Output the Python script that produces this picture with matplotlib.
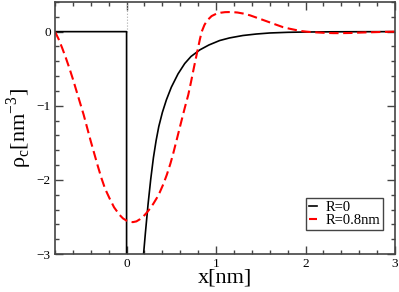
import numpy as np
import matplotlib
matplotlib.use("Agg")
import matplotlib.pyplot as plt
from matplotlib.ticker import MultipleLocator

plt.rcParams['font.family'] = ['Liberation Serif', 'DejaVu Serif']
plt.rcParams['mathtext.fontset'] = 'custom'
plt.rcParams['mathtext.rm'] = 'Liberation Serif'

# R=0 series (step, then rising curve)
r0_x = [-0.8, 0.0, 0.0, np.nan,
        0.18, 0.19, 0.21, 0.24, 0.27, 0.30, 0.33, 0.36, 0.40, 0.445, 0.50, 0.575, 0.65,
        0.72, 0.82, 0.92, 1.04, 1.15, 1.3, 1.45, 1.6, 1.8, 2.0, 2.3, 2.6, 3.0]
r0_y = [0.0, 0.0, -3.1, np.nan,
        -3.2, -3.0, -2.72, -2.33, -1.99, -1.70, -1.47, -1.28, -1.09, -0.92, -0.75, -0.57, -0.43,
        -0.335, -0.245, -0.18, -0.12, -0.085, -0.052, -0.032, -0.018, -0.009, -0.005, -0.002,
        -0.001, 0.0]

# R=0.8nm series
r8_x = [-0.8, -0.76, -0.72, -0.68, -0.64, -0.6, -0.56, -0.52, -0.48, -0.44, -0.40, -0.36,
        -0.32, -0.28, -0.24, -0.19, -0.14, -0.08, -0.04, 0.0, 0.04, 0.07, 0.11, 0.15, 0.19,
        0.22, 0.26, 0.30, 0.34, 0.37, 0.41, 0.45, 0.49, 0.52, 0.56, 0.61, 0.65, 0.69, 0.72,
        0.75, 0.79, 0.82, 0.84, 0.87, 0.9, 0.95, 1.0, 1.05, 1.1, 1.17, 1.24, 1.3, 1.38, 1.45,
        1.52, 1.6, 1.68, 1.75, 1.82, 1.9, 1.96, 2.01, 2.08, 2.15, 2.23, 2.31, 2.4, 2.5, 2.6,
        2.68, 2.77, 2.85, 2.93, 3.0]
r8_y = [0.0, -0.1, -0.22, -0.35, -0.49, -0.64, -0.80, -0.96, -1.12, -1.30, -1.48, -1.65,
        -1.82, -1.98, -2.12, -2.25, -2.37, -2.47, -2.52, -2.55, -2.565, -2.57, -2.56, -2.53, -2.49,
        -2.45, -2.39, -2.32, -2.24, -2.17, -2.06, -1.93, -1.78, -1.65, -1.46, -1.22, -1.03, -0.85, -0.68,
        -0.50, -0.27, -0.10, 0.0, 0.09, 0.15, 0.21, 0.24, 0.255, 0.263, 0.265, 0.258, 0.245, 0.22, 0.19,
        0.16, 0.125, 0.09, 0.06, 0.04, 0.02, 0.007, 0.0, -0.007, -0.012, -0.017, -0.02, -0.02, -0.018, -0.013,
        -0.01, -0.007, -0.004, -0.002, 0.0]

labels = ["R=0", "R=0.8nm"]

fig = plt.figure(figsize=(3.99, 2.92), dpi=100)
ax = fig.add_axes([55/399, 1-254/292, 340/399, 252/292])

ax.plot([0, 0], [0, 0.4], color='#aaaaaa', lw=0.8, ls=':')
ax.plot(r0_x, r0_y, color='black', lw=1.2, label=labels[0])
ax.plot(r8_x, r8_y, color='#ff0000', lw=1.5, ls=(0, (4.5, 2.2)), label=labels[1])

ax.set_xlim(-0.8, 3)
ax.set_ylim(-3, 0.4)
ax.xaxis.set_major_locator(MultipleLocator(1))
ax.xaxis.set_minor_locator(MultipleLocator(0.2))
ax.yaxis.set_major_locator(MultipleLocator(1))
ax.yaxis.set_minor_locator(MultipleLocator(0.2))
ax.tick_params(which='both', direction='in', top=True, right=True, labelsize=9.5, pad=3,
               color='#444444')
ax.tick_params(which='major', length=6, width=1)
ax.tick_params(which='minor', length=3, width=1)
for s in ax.spines.values():
    s.set_color('#444444')
    s.set_linewidth(1.2)

ax.set_xlabel('x[nm]', fontsize=16, labelpad=-1)
ax.set_ylabel('ρ$_\\mathrm{c}$[nm$^{-3}$]', fontsize=16, labelpad=2)

leg = ax.legend(loc='lower right', bbox_to_anchor=(0.965, 0.095), fontsize=10.5,
                handlelength=0.55, handletextpad=0.6, borderpad=0.2, labelspacing=0.0,
                borderaxespad=0, fancybox=False, framealpha=1, edgecolor='#444444')
leg.get_frame().set_linewidth(1.0)

fig.savefig('out.png', dpi=100)
